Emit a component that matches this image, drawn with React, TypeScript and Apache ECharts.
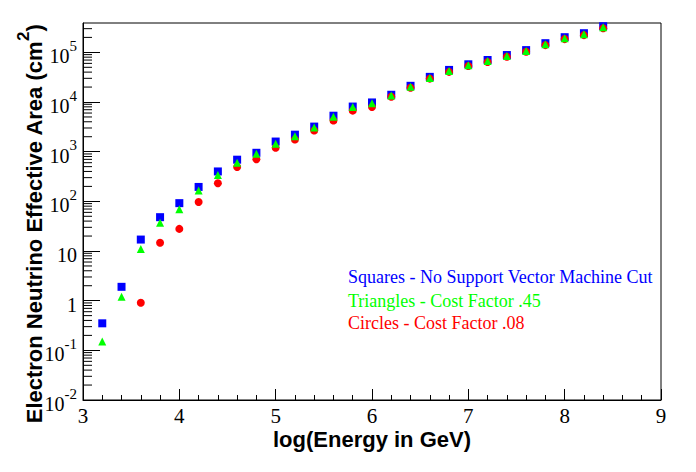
import React, { useEffect, useRef } from "react";
import * as echarts from "echarts";

const energies = [3.2, 3.4, 3.6, 3.8, 4.0, 4.2, 4.4, 4.6, 4.8, 5.0, 5.2, 5.4, 5.6, 5.8, 6.0, 6.2, 6.4, 6.6, 6.8, 7.0, 7.2, 7.4, 7.6, 7.8, 8.0, 8.2, 8.4];
const squares = [0.35, 1.9, 17, 48, 92, 195, 400, 690, 950, 1600, 2200, 3200, 5300, 8100, 9800, 14000, 21200, 32100, 44300, 57500, 70200, 88300, 111000, 153000, 202000, 243000, 336000];
const triangles = [0.15, 1.2, 11, 37, 69, 166, 340, 600, 910, 1450, 2050, 3060, 5080, 7900, 9400, 13600, 20200, 30600, 42300, 54900, 67000, 84300, 106000, 146000, 193000, 232000, 320000];
const circles = [null, null, 0.91, 14.7, 27.9, 97, 232, 492, 702, 1200, 1760, 2670, 4230, 6700, 7940, 12770, 19400, 29600, 40400, 53200, 64000, 81700, 102800, 140000, 185000, 222000, 306000];
const legendLabels = [
  "Squares - No Support Vector Machine Cut",
  "Triangles - Cost Factor .45",
  "Circles - Cost Factor .08",
];
const legendColors = ["#0000ff", "#00ff00", "#ff0000"];
const xTitle = "log(Energy in GeV)";
const yTitle = "Electron Neutrino Effective Area (cm";

const Y_MIN = 0.01;
const Y_MAX = 3.9e5;

const serif = "Liberation Serif";
const sans = "Liberation Sans";

export default function App() {
  const ref = useRef<HTMLDivElement>(null);
  useEffect(() => {
    if (!ref.current) return;
    document.body.style.margin = "0";
    const chart = echarts.init(ref.current, undefined, { renderer: "svg" });
    const minorVals: number[][] = [];
    for (let k = -2; k <= 5; k++) {
      for (let m = 2; m <= 9; m++) {
        const v = m * Math.pow(10, k);
        if (v < Y_MAX) minorVals.push([3, v]);
      }
    }
    const pair = (arr: (number | null)[]) =>
      energies.map((x, i) => (arr[i] == null ? [x, null] : [x, arr[i]]));
    chart.setOption({
      animation: false,
      backgroundColor: "#ffffff",
      textStyle: { fontFamily: serif },
      grid: {
        left: 83,
        right: 35,
        top: 23,
        bottom: 72,
        show: true,
        borderColor: "#000",
        borderWidth: 1,
        backgroundColor: "transparent",
      },
      xAxis: {
        type: "value",
        min: 3,
        max: 9,
        interval: 1,
        axisLine: { lineStyle: { color: "#000", width: 1 } },
        axisTick: { inside: true, length: 11, lineStyle: { color: "#000" } },
        minorTick: { show: true, splitNumber: 5, length: 5, lineStyle: { color: "#000" } },
        splitLine: { show: false },
        axisLabel: { color: "#000", fontFamily: serif, fontSize: 21, margin: 5 },
      },
      yAxis: {
        type: "log",
        logBase: 10,
        min: Y_MIN,
        max: Y_MAX,
        splitNumber: 8,
        axisLine: { lineStyle: { color: "#000", width: 1 } },
        axisTick: { inside: true, length: 17, lineStyle: { color: "#000" } },
        splitLine: { show: false },
        axisLabel: {
          showMaxLabel: false,
          margin: 6,
          fontFamily: serif,
          formatter: (v: number) => {
            const l = Math.log10(v);
            const e = Math.round(l);
            if (Math.abs(l - e) > 1e-6) return "";
            if (e === 0) return "{b|1}";
            if (e === 1) return "{b|10}";
            return "{b|10}{s|" + e + "}";
          },
          rich: {
            b: { fontFamily: serif, fontSize: 20, color: "#000", lineHeight: 28, verticalAlign: "bottom" },
            s: { fontFamily: serif, fontSize: 15, color: "#000", lineHeight: 16, verticalAlign: "top" },
          },
        },
      },
      series: [
        {
          type: "custom",
          silent: true,
          data: minorVals,
          renderItem: (params: any, api: any) => {
            const p = api.coord([api.value(0), api.value(1)]);
            return {
              type: "line",
              shape: { x1: p[0], y1: p[1], x2: p[0] + 9, y2: p[1] },
              style: { stroke: "#000", lineWidth: 1 },
            };
          },
          z: 1,
        },
        {
          type: "scatter",
          data: pair(squares),
          symbol: "rect",
          symbolSize: 8,
          itemStyle: { color: "#0000ff", opacity: 1 },
          z: 2,
        },
        {
          type: "scatter",
          data: pair(circles),
          symbol: "circle",
          symbolSize: 8,
          itemStyle: { color: "#ff0000", opacity: 1 },
          z: 3,
        },
        {
          type: "scatter",
          data: pair(triangles),
          symbol: "triangle",
          symbolSize: 8,
          itemStyle: { color: "#00ff00", opacity: 1 },
          z: 4,
        },
      ],
      graphic: [
        {
          type: "text",
          x: 372,
          y: 439,
          style: {
            text: xTitle,
            fontFamily: sans,
            fontWeight: "bold",
            fontSize: 22,
            fill: "#000",
            align: "center",
            verticalAlign: "middle",
          },
        },
        {
          type: "text",
          x: 30,
          y: 224,
          rotation: Math.PI / 2,
          style: {
            text: "{t|" + yTitle + "}{s|2}{t|)}",
            align: "center",
            verticalAlign: "middle",
            rich: {
              t: { fontFamily: sans, fontWeight: "bold", fontSize: 22, fill: "#000", lineHeight: 30, verticalAlign: "bottom" },
              s: { fontFamily: sans, fontWeight: "bold", fontSize: 17, fill: "#000", lineHeight: 17, verticalAlign: "top" },
            },
          },
        },
        ...legendLabels.map((t, i) => ({
          type: "text",
          x: 348,
          y: [277, 301, 323][i],
          style: {
            text: t,
            fontFamily: serif,
            fontSize: 18,
            fill: legendColors[i],
            align: "left",
            verticalAlign: "middle",
          },
        })),
      ],
    });
    return () => chart.dispose();
  }, []);
  return <div ref={ref} style={{ width: 696, height: 472 }} />;
}
